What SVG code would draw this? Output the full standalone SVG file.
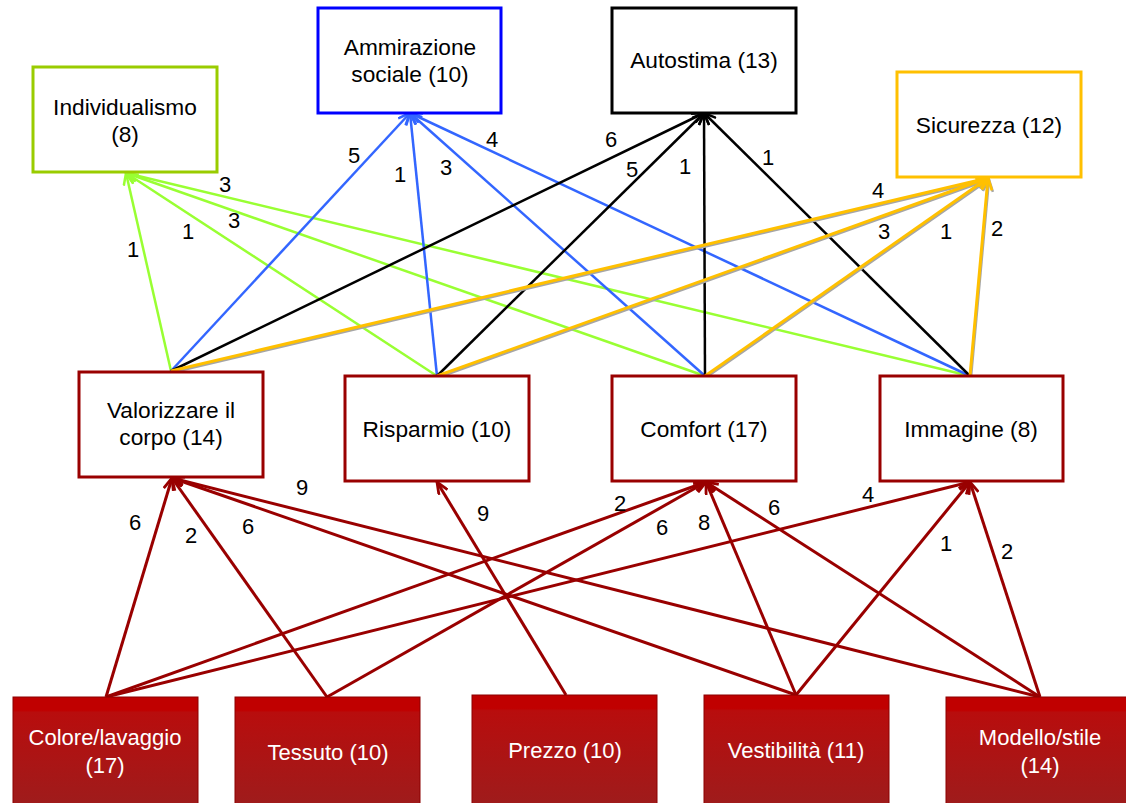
<svg xmlns="http://www.w3.org/2000/svg" width="1126" height="803" viewBox="0 0 1126 803">
<style>
.t{font-family:"Liberation Sans",Arial,sans-serif;font-size:22px;fill:#000;text-anchor:middle}
.n{font-size:22.7px}
.w{fill:#fff}
.box{fill:#fff;stroke-width:3}
.mid{stroke:#990000}
.bot{fill:url(#rg);stroke:#8b0000;stroke-width:1}
.e{fill:none;stroke-width:2.5}
.g{stroke:#99ff33;marker-end:url(#mg)}
.b{stroke:#3366ff;marker-end:url(#mb)}
.k{stroke:#000;marker-end:url(#mk)}
.o{stroke:#ffc000;stroke-width:3;marker-end:url(#mo)}
.s{stroke:#a6a6a6;stroke-width:2.5;marker-end:url(#ms)}
.r{stroke:#990000;stroke-width:3;marker-end:url(#mr)}
</style>
<defs>
<linearGradient id="rg" x1="0" y1="0" x2="0" y2="1">
<stop offset="0" stop-color="#c00000"/>
<stop offset="0.12" stop-color="#c00000"/>
<stop offset="0.14" stop-color="#b80d0d"/>
<stop offset="1" stop-color="#9e1c1c"/>
</linearGradient>
<marker id="mg" viewBox="0 0 14 12" refX="13" refY="6" markerWidth="14" markerHeight="12" markerUnits="userSpaceOnUse" orient="auto"><path d="M1,1 L13,6 L1,11" fill="none" stroke="#99ff33" stroke-width="2.5"/></marker>
<marker id="mb" viewBox="0 0 14 12" refX="13" refY="6" markerWidth="14" markerHeight="12" markerUnits="userSpaceOnUse" orient="auto"><path d="M1,1 L13,6 L1,11" fill="none" stroke="#3366ff" stroke-width="2.5"/></marker>
<marker id="mk" viewBox="0 0 14 12" refX="13" refY="6" markerWidth="14" markerHeight="12" markerUnits="userSpaceOnUse" orient="auto"><path d="M1,1 L13,6 L1,11" fill="none" stroke="#000" stroke-width="2.5"/></marker>
<marker id="mo" viewBox="0 0 14 12" refX="13" refY="6" markerWidth="14" markerHeight="12" markerUnits="userSpaceOnUse" orient="auto"><path d="M1,1 L13,6 L1,11" fill="none" stroke="#ffc000" stroke-width="2.8"/></marker>
<marker id="ms" viewBox="0 0 14 12" refX="13" refY="6" markerWidth="14" markerHeight="12" markerUnits="userSpaceOnUse" orient="auto"><path d="M1,1 L13,6 L1,11" fill="none" stroke="#a6a6a6" stroke-width="2.5"/></marker>
<marker id="mr" viewBox="0 0 14 12" refX="13" refY="6" markerWidth="14" markerHeight="12" markerUnits="userSpaceOnUse" orient="auto"><path d="M1,1 L13,6 L1,11" fill="none" stroke="#990000" stroke-width="2.8"/></marker>
</defs>
<rect width="1126" height="803" fill="#fff"/>

<g id="connectors">
<line class="e g" x1="171" y1="371" x2="126" y2="173"/>
<line class="e g" x1="437" y1="376" x2="126" y2="173"/>
<line class="e g" x1="705" y1="376" x2="126" y2="173"/>
<line class="e g" x1="970" y1="376" x2="126" y2="173"/>
<line class="e b" x1="171" y1="371" x2="410" y2="113"/>
<line class="e b" x1="437" y1="376" x2="410" y2="113"/>
<line class="e b" x1="705" y1="376" x2="410" y2="113"/>
<line class="e b" x1="970" y1="376" x2="410" y2="113"/>
<line class="e k" x1="171" y1="371" x2="704" y2="113"/>
<line class="e k" x1="437" y1="376" x2="704" y2="113"/>
<line class="e k" x1="705" y1="376" x2="704" y2="113"/>
<line class="e k" x1="970" y1="376" x2="704" y2="113"/>
<g transform="translate(1,1.5)">
<line class="e s" x1="171" y1="371" x2="988" y2="178"/>
<line class="e s" x1="437" y1="376" x2="988" y2="178"/>
<line class="e s" x1="705" y1="376" x2="988" y2="178"/>
<line class="e s" x1="970" y1="376" x2="988" y2="178"/>
</g>
<line class="e o" x1="171" y1="371" x2="988" y2="178"/>
<line class="e o" x1="437" y1="376" x2="988" y2="178"/>
<line class="e o" x1="705" y1="376" x2="988" y2="178"/>
<line class="e o" x1="970" y1="376" x2="988" y2="178"/>

<line class="e r" x1="106" y1="697" x2="172" y2="478"/>
<line class="e r" x1="327" y1="697" x2="172" y2="478"/>
<line class="e r" x1="796" y1="695" x2="172" y2="478"/>
<line class="e r" x1="1040" y1="697" x2="172" y2="478"/>
<line class="e r" x1="566" y1="695" x2="437" y2="482"/>
<line class="e r" x1="106" y1="697" x2="706" y2="482"/>
<line class="e r" x1="327" y1="697" x2="706" y2="482"/>
<line class="e r" x1="796" y1="695" x2="706" y2="482"/>
<line class="e r" x1="1040" y1="697" x2="706" y2="482"/>
<line class="e r" x1="106" y1="697" x2="970" y2="482"/>
<line class="e r" x1="796" y1="695" x2="970" y2="482"/>
<line class="e r" x1="1040" y1="697" x2="970" y2="482"/>

<g class="t">
<text x="133" y="257">1</text>
<text x="188" y="239">1</text>
<text x="234" y="228">3</text>
<text x="225" y="192">3</text>
<text x="354" y="163">5</text>
<text x="400" y="182">1</text>
<text x="446" y="175">3</text>
<text x="492" y="147">4</text>
<text x="611" y="147">6</text>
<text x="632" y="177">5</text>
<text x="685" y="174">1</text>
<text x="768" y="165">1</text>
<text x="878" y="198">4</text>
<text x="884" y="239">3</text>
<text x="946" y="239">1</text>
<text x="997" y="236">2</text>
<text x="135" y="530">6</text>
<text x="191" y="543">2</text>
<text x="248" y="534">6</text>
<text x="302" y="495">9</text>
<text x="483" y="521">9</text>
<text x="620" y="511">2</text>
<text x="662" y="535">6</text>
<text x="704" y="530">8</text>
<text x="774" y="515">6</text>
<text x="868" y="502">4</text>
<text x="946" y="551">1</text>
<text x="1007" y="559">2</text>
</g>
</g>

<g id="individualismo">
<rect class="box" x="33" y="67" width="184" height="105" stroke="#99cc00"/>
<text class="t n" x="125" y="115">Individualismo</text>
<text class="t n" x="125" y="142">(8)</text>
</g>
<g id="ammirazione">
<rect class="box" x="318" y="8" width="183" height="105" stroke="#0000ff"/>
<text class="t n" x="410" y="55">Ammirazione</text>
<text class="t n" x="410" y="82">sociale (10)</text>
</g>
<g id="autostima">
<rect class="box" x="612" y="8" width="184" height="105" stroke="#000"/>
<text class="t n" x="704" y="68">Autostima (13)</text>
</g>
<g id="sicurezza">
<rect class="box" x="897" y="72" width="184" height="105" stroke="#ffc000"/>
<text class="t n" x="989" y="133">Sicurezza (12)</text>
</g>

<g id="valorizzare">
<rect class="box mid" x="79" y="372" width="184" height="105"/>
<text class="t n" x="171" y="418">Valorizzare il</text>
<text class="t n" x="171" y="445">corpo (14)</text>
</g>
<g id="risparmio">
<rect class="box mid" x="345" y="376" width="184" height="105"/>
<text class="t n" x="437" y="437">Risparmio (10)</text>
</g>
<g id="comfort">
<rect class="box mid" x="612" y="376" width="184" height="105"/>
<text class="t n" x="704" y="437">Comfort (17)</text>
</g>
<g id="immagine">
<rect class="box mid" x="880" y="376" width="183" height="105"/>
<text class="t n" x="971" y="437">Immagine (8)</text>
</g>

<g id="colore">
<rect class="bot" x="13" y="697" width="185" height="110"/>
<text class="t w" x="105" y="745">Colore/lavaggio</text>
<text class="t w" x="105" y="773">(17)</text>
</g>
<g id="tessuto">
<rect class="bot" x="235" y="697" width="185" height="110"/>
<text class="t w" x="328" y="760">Tessuto (10)</text>
</g>
<g id="prezzo">
<rect class="bot" x="472" y="695" width="185" height="112"/>
<text class="t w" x="565" y="758">Prezzo (10)</text>
</g>
<g id="vestibilita">
<rect class="bot" x="704" y="695" width="185" height="112"/>
<text class="t w" x="796" y="758">Vestibilità (11)</text>
</g>
<g id="modello">
<rect class="bot" x="946" y="697" width="185" height="110"/>
<text class="t w" x="1040" y="745">Modello/stile</text>
<text class="t w" x="1040" y="773">(14)</text>
</g>
</svg>
